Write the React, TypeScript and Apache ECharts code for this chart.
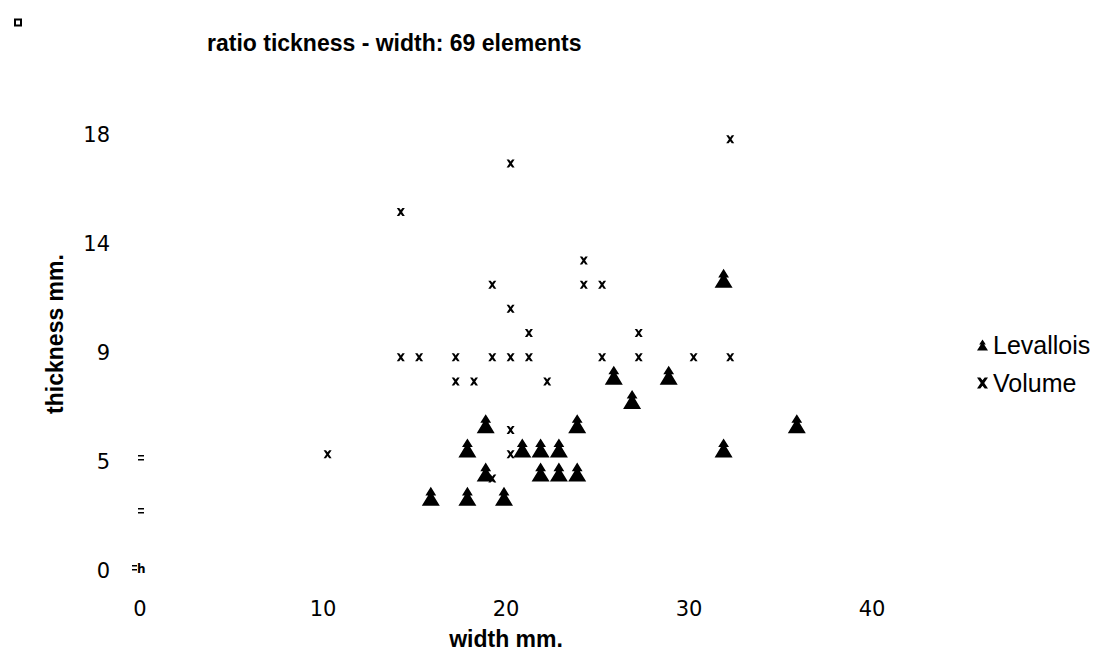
import React, { useEffect, useRef } from "react";
import * as echarts from "echarts";

const titleText = "ratio tickness - width: 69 elements";
const xAxisName = "width mm.";
const yAxisName = "thickness mm.";
const seriesNames = ["Levallois", "Volume"];

const levalloisWidth = [16, 18, 20, 19, 22, 23, 24, 18, 21, 22, 23, 19, 24, 26, 27, 29, 32, 36, 32];
const levalloisThickness = [3, 3, 3, 4, 4, 4, 4, 5, 5, 5, 5, 6, 6, 8, 7, 8, 12, 6, 5];

const volumeWidth = [14, 20, 32, 24, 19, 24, 25, 20, 21, 27, 14, 15, 17, 19, 20, 21, 25, 27, 30, 32, 17, 18, 22, 20, 20, 10, 19];
const volumeThickness = [15, 17, 18, 13, 12, 12, 12, 11, 10, 10, 9, 9, 9, 9, 9, 9, 9, 9, 9, 9, 8, 8, 8, 6, 5, 5, 4];

const xMin = 0;
const xMax = 40;
const xStep = 10;
const yMin = 0;
const yMax = 18;
const yStep = 4.5;

const treeSymbol = "path://M10,0 L16,9 L13,9 L20,20 L0,20 L7,9 L4,9 Z";
const crossSymbol = "path://M0,0 L3,0 L5,2.6 L7,0 L10,0 L6.6,5 L10,10 L7,10 L5,7.4 L3,10 L0,10 L3.4,5 Z";

export default function App() {
  const ref = useRef<HTMLDivElement>(null);
  useEffect(() => {
    if (!ref.current) return;
    const chart = echarts.init(ref.current, null, { renderer: "svg" });
    const lev = levalloisWidth.map((w, i) => [w, levalloisThickness[i]]);
    const vol = volumeWidth.map((w, i) => [w, volumeThickness[i]]);
    const bar = (x: number, y: number, w: number) => ({
      type: "rect",
      shape: { x, y, width: w, height: 1.5 },
      style: { fill: "#000" },
      silent: true,
    });
    chart.setOption({
      animation: false,
      backgroundColor: "#fff",
      grid: { left: 140, right: 223, top: 135, bottom: 83, containLabel: false },
      xAxis: {
        type: "value",
        min: xMin,
        max: xMax,
        interval: xStep,
        axisLine: { show: false },
        axisTick: { show: false },
        splitLine: { show: false },
        axisLabel: {
          color: "#000",
          fontFamily: "DejaVu Sans",
          fontSize: 21,
          margin: 27,
        },
      },
      yAxis: {
        type: "value",
        min: yMin,
        max: yMax,
        interval: yStep,
        axisLine: { show: false },
        axisTick: { show: false },
        splitLine: { show: false },
        axisLabel: {
          color: "#000",
          fontFamily: "DejaVu Sans",
          fontSize: 21,
          margin: 30,
          formatter: (v: number) => String(Math.round(v)),
        },
      },
      legend: {
        orient: "vertical",
        left: 972,
        top: 327,
        itemWidth: 11,
        itemHeight: 11,
        itemGap: 12,
        textStyle: { color: "#000", fontFamily: "Liberation Sans", fontSize: 25, lineHeight: 26 },
        data: [
          { name: seriesNames[0], icon: treeSymbol },
          { name: seriesNames[1], icon: crossSymbol },
        ],
      },
      graphic: [
        {
          type: "text",
          left: 207,
          top: 31,
          style: { text: titleText, fill: "#000", font: "bold 23px 'Liberation Sans'" },
        },
        {
          type: "text",
          x: 506,
          y: 639,
          style: { text: xAxisName, fill: "#000", font: "bold 23px 'Liberation Sans'", align: "center", verticalAlign: "middle" },
        },
        {
          type: "text",
          x: 55,
          y: 334,
          rotation: Math.PI / 2,
          style: { text: yAxisName, fill: "#000", font: "bold 23px 'Liberation Sans'", align: "center", verticalAlign: "middle" },
        },
        {
          type: "rect",
          shape: { x: 15, y: 19.5, width: 6, height: 6 },
          style: { fill: "#fff", stroke: "#000", lineWidth: 2 },
          silent: true,
        },
        bar(138, 455, 6),
        bar(138, 459, 6),
        bar(138, 508, 6),
        bar(138, 512, 6),
        bar(132, 565, 5),
        bar(132, 569, 5),
        {
          type: "text",
          x: 137,
          y: 563,
          style: { text: "h", fill: "#000", font: "bold 12px 'DejaVu Sans'" },
        },
      ],
      series: [
        {
          name: seriesNames[0],
          type: "scatter",
          data: lev,
          symbol: treeSymbol,
          symbolSize: [18, 19],
          symbolOffset: [-2, -2],
          itemStyle: { color: "#000", opacity: 1 },
          emphasis: { disabled: true },
        },
        {
          name: seriesNames[1],
          type: "scatter",
          data: vol,
          symbol: crossSymbol,
          symbolSize: 8,
          symbolOffset: [4.6, 4.3],
          itemStyle: { color: "#000", opacity: 1 },
          emphasis: { disabled: true },
        },
      ],
    });
    return () => chart.dispose();
  }, []);
  return <div ref={ref} style={{ width: 1095, height: 654, position: "absolute", left: 0, top: 0 }} />;
}
